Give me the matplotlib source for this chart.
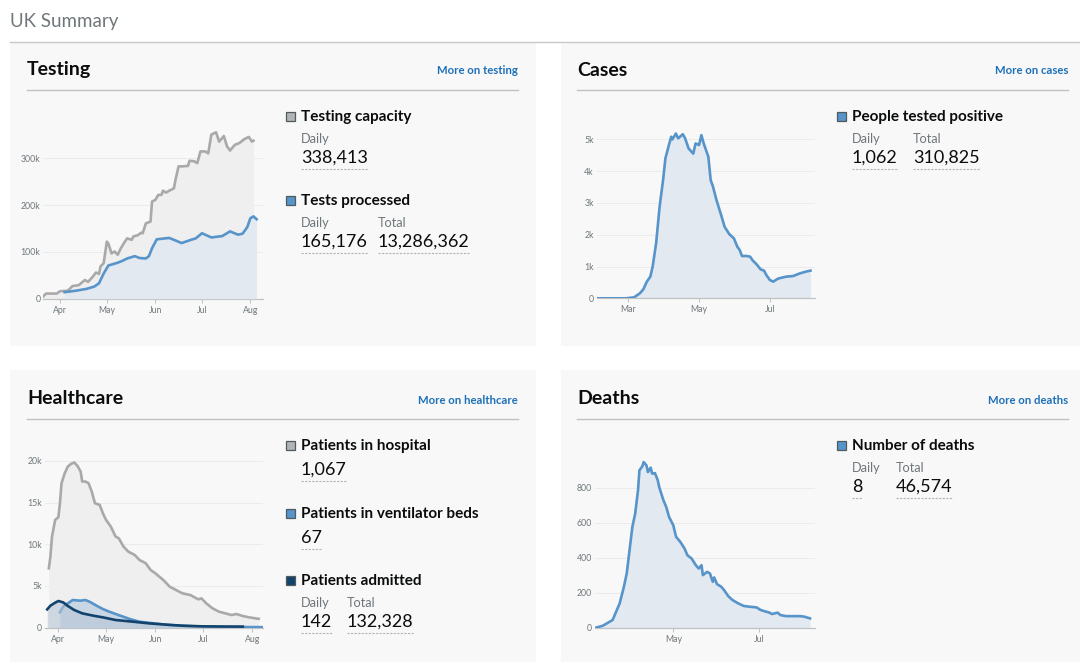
import matplotlib
matplotlib.use('Agg')
import matplotlib.pyplot as plt
import matplotlib.dates as mdates
import pandas as pd
from matplotlib.patches import Rectangle
from matplotlib.lines import Line2D

# ---------------- DATA ----------------
cap_dates = ['03-21', '03-23', '03-30', '04-01', '04-06', '04-09', '04-13', '04-17', '04-19', '04-22',
             '04-24', '04-26', '04-27', '04-29', '05-01', '05-02', '05-04', '05-06', '05-08', '05-10',
             '05-12', '05-14', '05-17', '05-18', '05-21', '05-23', '05-24', '05-26', '05-29', '05-30',
             '06-01', '06-03', '06-05', '06-06', '06-08', '06-10', '06-13', '06-14', '06-16', '06-18',
             '06-22', '06-23', '06-26', '06-28', '06-30', '07-03', '07-05', '07-07', '07-10', '07-12',
             '07-15', '07-17', '07-19', '07-22', '07-25', '07-28', '07-31', '08-02', '08-03']
cap_values = [4000, 11000, 11000, 16000, 17000, 27000, 29000, 40000, 36000, 47000,
              56000, 53000, 69000, 76000, 122000, 118000, 97000, 101000, 94000, 108000,
              119000, 129000, 126000, 133000, 136000, 141000, 140000, 161000, 165000, 208000,
              211000, 222000, 222000, 231000, 227000, 231000, 236000, 254000, 283000, 283000,
              284000, 295000, 294000, 290000, 315000, 315000, 311000, 351000, 356000, 336000,
              348000, 326000, 317000, 329000, 333000, 341000, 346000, 336000, 338000]

proc_dates = ['04-04', '04-11', '04-18', '04-23', '04-26', '04-29', '05-02', '05-05', '05-08', '05-11',
              '05-14', '05-19', '05-22', '05-26', '05-28', '05-30', '06-02', '06-10', '06-18', '06-24',
              '06-27', '07-01', '07-07', '07-14', '07-19', '07-24', '07-27', '07-30', '08-01', '08-03', '08-05']
proc_values = [14000, 17000, 21000, 26000, 33000, 54000, 71000, 74000, 77000, 81000,
               86000, 91000, 87000, 86000, 91000, 108000, 127000, 130000, 119000, 126000,
               129000, 140000, 131000, 134000, 144000, 137000, 139000, 153000, 172000, 176000, 170000]

case_dates = ['01-31', '02-28', '03-06', '03-11', '03-14', '03-17', '03-20', '03-22', '03-25', '03-28',
              '03-31', '04-02', '04-05', '04-07', '04-08', '04-11', '04-13', '04-17', '04-19', '04-22',
              '04-26', '04-28', '05-01', '05-03', '05-05', '05-07', '05-09', '05-11', '05-13', '05-16',
              '05-20', '05-23', '05-27', '05-31', '06-03', '06-05', '06-07', '06-11', '06-14', '06-16',
              '06-20', '06-23', '06-26', '06-28', '07-01', '07-04', '07-07', '07-09', '07-15', '07-21',
              '07-27', '08-01', '08-05']
case_values = [0, 0, 30, 157, 283, 524, 680, 995, 1730, 2880,
               3720, 4400, 4820, 5080, 4995, 5180, 5030, 5160, 5030, 4710,
               4550, 4870, 4820, 5130, 4870, 4660, 4450, 3720, 3510, 3090,
               2620, 2250, 2020, 1885, 1620, 1520, 1330, 1330, 1310, 1200,
               1050, 910, 870, 730, 576, 524, 597, 630, 680, 700,
               785, 838, 870]

hosp_dates = ['03-26', '03-27', '03-28', '03-30', '04-01', '04-02', '04-03', '04-05', '04-07', '04-09',
              '04-11', '04-13', '04-15', '04-16', '04-18', '04-20', '04-22', '04-24', '04-27', '04-29',
              '05-01', '05-04', '05-07', '05-09', '05-12', '05-15', '05-19', '05-22', '05-26', '05-29',
              '06-01', '06-06', '06-10', '06-14', '06-18', '06-23', '06-28', '06-30', '07-03', '07-07',
              '07-11', '07-15', '07-19', '07-22', '07-26', '07-30', '08-03', '08-05']
hosp_values = [7120, 8520, 10920, 12920, 13240, 14920, 17320, 18520, 19320, 19640,
               19800, 19400, 18720, 17520, 17520, 17320, 16320, 14920, 14720, 13720,
               12920, 12120, 10920, 10720, 9720, 9120, 8720, 8120, 7720, 6920,
               6520, 5720, 4920, 4520, 4120, 3920, 3400, 3520, 2920, 2320,
               1920, 1720, 1520, 1640, 1400, 1240, 1120, 1067]

vent_dates = ['04-02', '04-04', '04-07', '04-10', '04-15', '04-18', '04-21', '04-25', '04-29', '05-03',
              '05-10', '05-16', '05-22', '05-31', '06-10', '06-21', '07-05', '07-22', '08-07']
vent_values = [1840, 2520, 2920, 3320, 3240, 3320, 3080, 2640, 2240, 1920,
               1440, 1040, 720, 520, 320, 200, 120, 80, 67]

adm_dates = ['03-25', '03-27', '03-30', '04-01', '04-04', '04-07', '04-11', '04-16', '04-23', '04-29',
             '05-07', '05-18', '05-28', '06-08', '06-18', '07-01', '07-13', '07-26']
adm_values = [2200, 2640, 3000, 3200, 3040, 2600, 2120, 1720, 1440, 1240,
              920, 720, 520, 360, 240, 160, 140, 130]

death_dates = ['03-07', '03-12', '03-15', '03-19', '03-21', '03-24', '03-27', '03-29', '03-31', '04-02',
               '04-04', '04-06', '04-07', '04-09', '04-10', '04-12', '04-13', '04-15', '04-16', '04-18',
               '04-20', '04-21', '04-24', '04-26', '04-28', '05-01', '05-03', '05-06', '05-09', '05-11',
               '05-14', '05-17', '05-19', '05-21', '05-22', '05-25', '05-27', '05-29', '05-30', '06-01',
               '06-04', '06-06', '06-09', '06-12', '06-16', '06-20', '06-24', '06-29', '07-02', '07-06',
               '07-08', '07-10', '07-14', '07-16', '07-20', '07-25', '07-30', '08-02', '08-06']
death_values = [0, 11, 25, 44, 82, 139, 234, 310, 443, 576,
                652, 785, 899, 921, 946, 927, 889, 914, 880, 883,
                842, 804, 728, 690, 633, 585, 519, 490, 452, 414,
                395, 357, 338, 357, 300, 319, 310, 262, 287, 249,
                234, 215, 180, 158, 139, 124, 120, 116, 101, 91,
                87, 78, 86, 72, 66, 66, 66, 63, 53]

# ---------------- STYLE ----------------
W, H = 1080, 662
BG = '#f8f8f8'
GREY_LINE = '#b1b4b6'
GREY_SER = '#a9a9a9'
BLUE = '#5694ca'
DARK = '#12436d'
TXT = '#0b0c0c'
SUB = '#6f777b'
LINK = '#1d70b8'

plt.rcParams['font.family'] = ['Lato', 'DejaVu Sans']
fig = plt.figure(figsize=(W / 100, H / 100), dpi=100)
fig.patch.set_facecolor('white')


def fx(x):
    return x / W


def fy(y):
    return 1 - y / H


def rect(x0, y0, x1, y1, color, ec='none', lw=0, z=0):
    fig.add_artist(Rectangle((fx(x0), fy(y1)), (x1 - x0) / W, (y1 - y0) / H,
                             transform=fig.transFigure, facecolor=color,
                             edgecolor=ec, linewidth=lw, zorder=z))


def hline(x0, x1, y, color, lw=1.0, ls='-'):
    fig.add_artist(Line2D([fx(x0), fx(x1)], [fy(y), fy(y)], transform=fig.transFigure,
                          color=color, lw=lw, ls=ls))


def txt(x, y, s, size, color=TXT, weight='normal', ha='left'):
    return fig.text(fx(x), fy(y), s, fontsize=size, color=color, fontweight=weight,
                    ha=ha, va='center')


def d(lst):
    return pd.to_datetime(['2020-' + s for s in lst])


def dn(s):
    return mdates.date2num(pd.Timestamp('2020-' + s))


# Header
txt(10, 21, 'UK Summary', 13.5, color=SUB)
hline(10, 1080, 41.5, '#c8c8c8', lw=1)

# Panels
rect(10, 42, 536, 346, BG)
rect(561, 42, 1080, 346, BG)
rect(10, 370, 536, 662, BG)
rect(561, 370, 1080, 662, BG)

panels = [(27, 518, 70, 'Testing', 'More on testing'),
          (577, 1068, 70, 'Cases', 'More on cases'),
          (27, 518, 399, 'Healthcare', 'More on healthcare'),
          (577, 1068, 399, 'Deaths', 'More on deaths')]
for x0, x1, y, title, link in panels:
    txt(x0, y, title, 14, weight='bold')
    txt(x1, y + 1, link, 8.2, color=LINK, weight='bold', ha='right')
    hline(x0, x1, y + 20, '#bfc1c3', lw=1)


def make_ax(left, right, top, bottom, xlim, ylim, xticks, xlabels, yticks, ylabels):
    ax = fig.add_axes([fx(left), fy(bottom), (right - left) / W, (bottom - top) / H])
    ax.set_facecolor('none')
    ax.set_xlim(*xlim)
    ax.set_ylim(*ylim)
    for s in ['top', 'right', 'left']:
        ax.spines[s].set_visible(False)
    ax.spines['bottom'].set_color('#bfc1c3')
    ax.spines['bottom'].set_linewidth(0.9)
    ax.set_xticks(xticks)
    ax.set_xticklabels(xlabels)
    ax.set_yticks(yticks)
    ax.set_yticklabels(ylabels)
    ax.tick_params(axis='x', length=3, width=0.7, color='#bfc1c3', labelsize=6.3,
                   labelcolor=SUB, pad=2)
    ax.tick_params(axis='y', length=0, labelsize=6.3, labelcolor=SUB, pad=2)
    ax.grid(axis='y', color='#ebebeb', lw=0.7)
    ax.set_axisbelow(True)
    return ax


def series(ax, dates, values, color, fill, lw=1.9, alpha=1.0, z=3):
    x = d(dates)
    ax.fill_between(x, 0, values, color=fill, alpha=alpha, lw=0, zorder=z - 1)
    ax.plot(x, values, color=color, lw=lw, zorder=z, solid_joinstyle='round')


# Testing chart
apr = dn('04-01')
ax1 = make_ax(43.3, 263, 100, 298.7, (apr - 10.7, apr + 130.1), (0, 425000),
              [dn(m) for m in ['04-01', '05-01', '06-01', '07-01', '08-01']],
              ['Apr', 'May', 'Jun', 'Jul', 'Aug'],
              [0, 100000, 200000, 300000], ['0', '100k', '200k', '300k'])
series(ax1, cap_dates, cap_values, GREY_SER, '#efefef', z=3)
series(ax1, proc_dates, proc_values, BLUE, '#e3e9f1', z=5)

# Cases chart
mar = dn('03-01')
ax2 = make_ax(596.7, 815, 100, 298.3, (mar - 27.2, mar + 160.9), (0, 6236),
              [dn(m) for m in ['03-01', '05-01', '07-01']], ['Mar', 'May', 'Jul'],
              [0, 1000, 2000, 3000, 4000, 5000], ['0', '1k', '2k', '3k', '4k', '5k'])
series(ax2, case_dates, case_values, BLUE, '#e3e9f1')

# Healthcare chart
ax3 = make_ax(45, 263.3, 440, 627.7, (apr - 8.4, apr + 128.9), (0, 22500),
              [dn(m) for m in ['04-01', '05-01', '06-01', '07-01', '08-01']],
              ['Apr', 'May', 'Jun', 'Jul', 'Aug'],
              [0, 5000, 10000, 15000, 20000], ['0', '5k', '10k', '15k', '20k'])
series(ax3, hosp_dates, hosp_values, GREY_SER, '#efefef', z=3)
series(ax3, vent_dates, vent_values, BLUE, '#c9d6e4', z=5)
series(ax3, adm_dates, adm_values, DARK, '#b9c6d6', alpha=0.6, z=7)

# Deaths chart
may = dn('05-01')
ax4 = make_ax(595, 815, 440, 627.7, (may - 55.5, may + 100.5), (0, 1072),
              [dn(m) for m in ['05-01', '07-01']], ['May', 'Jul'],
              [0, 200, 400, 600, 800], ['0', '200', '400', '600', '800'])
series(ax4, death_dates, death_values, BLUE, '#e3e9f1')

# ---------------- Panel summaries ----------------
values_to_underline = []


def legend(x, y, label, color):
    rect(x - 15, y - 5, x - 6, y + 4, color, ec='#505a5f', lw=0.9, z=5)
    txt(x, y, label, 11, weight='bold')


def stat(x, y_lab, y_val, lab, val):
    if lab:
        txt(x, y_lab, lab, 9.2, color=SUB)
    t = txt(x, y_val, val, 13)
    values_to_underline.append((t, y_val + 11))


# Testing
legend(301, 117, 'Testing capacity', GREY_LINE)
stat(301, 139, 158, 'Daily', '338,413')
legend(301, 201, 'Tests processed', BLUE)
stat(301, 223, 242, 'Daily', '165,176')
stat(378, 223, 242, 'Total', '13,286,362')

# Cases
legend(852, 117, 'People tested positive', BLUE)
stat(852, 139, 158, 'Daily', '1,062')
stat(913, 139, 158, 'Total', '310,825')

# Healthcare
legend(301, 446, 'Patients in hospital', GREY_LINE)
stat(301, None, 470, None, '1,067')
legend(301, 514, 'Patients in ventilator beds', BLUE)
stat(301, None, 538, None, '67')
legend(301, 581, 'Patients admitted', DARK)
stat(301, 603, 622, 'Daily', '142')
stat(347, 603, 622, 'Total', '132,328')

# Deaths
legend(852, 446, 'Number of deaths', BLUE)
stat(852, 468, 487, 'Daily', '8')
stat(896, 468, 487, 'Total', '46,574')

fig.canvas.draw()
r = fig.canvas.get_renderer()
for t, yy in values_to_underline:
    bb = t.get_window_extent(renderer=r)
    hline(bb.x0, bb.x1, yy, GREY_LINE, lw=0.8, ls=(0, (2, 1.2)))

fig.savefig('out.png', dpi=100, facecolor='white')
